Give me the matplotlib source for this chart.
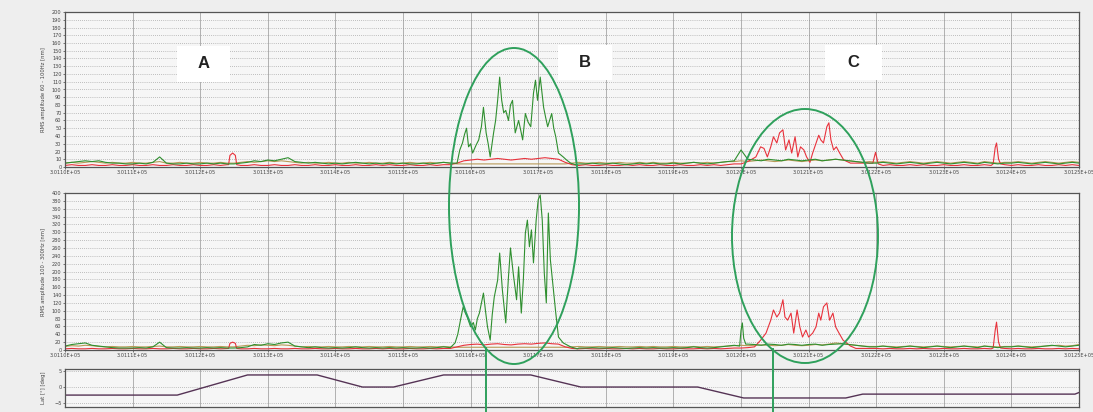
import numpy as np
import matplotlib
matplotlib.use("Agg")
import matplotlib.pyplot as plt
from matplotlib.patches import Ellipse, Rectangle
from matplotlib.lines import Line2D

# ---------------- data ----------------
T0 = 301100  # time origin (units of the x axis)
xtick_offsets = list(range(0, 151, 10))
xtick_labels = ["3.0110E+05", "3.0111E+05", "3.0112E+05", "3.0113E+05",
                "3.0114E+05", "3.0115E+05", "3.0116E+05", "3.0117E+05",
                "3.0118E+05", "3.0119E+05", "3.0120E+05", "3.0121E+05",
                "3.0122E+05", "3.0123E+05", "3.0124E+05", "3.0125E+05"]

# --- top panel (RMS 60-100 Hz), baseline sampled every 1 unit ---
green1_base = [5, 6, 7, 8, 7, 8, 6, 5, 5, 4,
               4, 5, 4, 6, 13, 5, 4, 4, 5, 4,
               4, 5, 4, 5, 4, 4, 5, 6, 8, 7,
               9, 8, 10, 12, 7, 6, 5, 6, 5, 4,
               5, 4, 5, 6, 5, 4, 5, 4, 5, 4,
               5, 4, 4, 5, 4, 5, 6, 5, 5, 5,
               5, 5, 5, 5, 5, 5, 5, 5, 5, 5,
               5, 5, 5, 5, 5, 5, 4, 4, 5, 4,
               4, 5, 4, 3, 4, 5, 4, 5, 4, 4,
               5, 4, 5, 6, 5, 4, 5, 6, 7, 8,
               22, 10, 9, 8, 10, 9, 8, 10, 9, 8,
               9, 10, 8, 9, 10, 9, 8, 7, 6, 5,
               5, 6, 5, 4, 5, 6, 5, 4, 5, 6,
               5, 4, 5, 6, 5, 4, 6, 5, 4, 5,
               5, 6, 5, 4, 5, 6, 5, 4, 5, 6, 5]
green1_B_t = [58.0, 58.4, 58.8, 59.1, 59.4, 59.7, 60.0, 60.3, 60.8, 61.2, 61.6, 61.9,
              62.3, 62.6, 62.9, 63.4, 63.7, 64.0, 64.3, 64.6, 64.9, 65.2, 65.6, 65.9,
              66.2, 66.6, 67.1, 67.4, 67.7, 68.1, 68.5, 68.9, 69.3, 69.6, 69.9, 70.3,
              70.8, 71.1, 71.4, 72.0, 72.3, 72.6, 73.0, 73.7, 74.2, 74.8, 75.5]
green1_B_v = [5, 22, 31, 42, 50, 26, 30, 18, 28, 35, 52, 77,
              44, 30, 13, 44, 60, 86, 116, 86, 70, 73, 60, 80,
              86, 44, 60, 48, 35, 69, 58, 52, 95, 112, 86, 116,
              77, 64, 52, 69, 50, 39, 18, 13, 9, 5, 3]

red1_base = [2, 3, 2, 2, 3, 2, 2, 3, 2, 2,
             3, 2, 2, 3, 2, 2, 3, 2, 2, 3,
             2, 2, 3, 2, 3, 3, 2, 2, 3, 2,
             2, 3, 2, 2, 3, 2, 2, 3, 2, 2,
             3, 2, 2, 3, 2, 2, 3, 2, 3, 2,
             2, 3, 2, 2, 3, 2, 3, 3, 5, 8,
             9, 10, 9, 10, 11, 10, 9, 10, 11, 10,
             11, 12, 11, 10, 6, 3, 2, 3, 2, 2,
             3, 2, 2, 3, 2, 3, 2, 2, 3, 2,
             2, 3, 2, 2, 3, 2, 3, 2, 3, 4,
             4, 5, 6, 5, 6, 5, 6, 5, 6, 5,
             6, 5, 6, 5, 6, 5, 4, 3, 3, 3,
             3, 2, 3, 2, 2, 3, 2, 3, 2, 2,
             3, 2, 2, 3, 2, 2, 3, 2, 2, 3,
             2, 3, 2, 2, 3, 2, 2, 3, 2, 3, 2]
red1_bump_t = [24.2, 24.4, 24.8, 25.2, 25.4]
red1_bump_v = [3, 15, 18, 15, 3]
red1_C_t = [100.0, 100.7, 101.4, 102.2, 102.9, 103.4, 103.9, 104.4, 104.8, 105.3,
            105.7, 106.2, 106.6, 107.1, 107.5, 108.0, 108.4, 108.8, 109.3, 109.7,
            110.2, 110.6, 111.1, 111.5, 111.8, 112.2, 112.7, 113.0, 113.3, 113.7,
            114.1, 114.6, 115.2, 116.2, 119.5, 119.9, 120.3]
red1_C_v = [4, 6, 9, 13, 26, 24, 13, 26, 39, 31,
            44, 48, 22, 35, 18, 39, 13, 26, 22, 13,
            6, 18, 31, 41, 35, 31, 52, 57, 35, 22,
            26, 18, 9, 5, 5, 19, 4]
red1_spike_t = [137.3, 137.6, 137.8, 138.1, 138.4]
red1_spike_v = [4, 25, 31, 10, 4]

olive1_base = [5, 6, 5, 6, 7, 6, 5, 6, 5, 5,
               6, 5, 5, 6, 7, 5, 5, 6, 5, 5,
               6, 5, 5, 6, 5, 5, 6, 7, 6, 7,
               8, 7, 8, 7, 6, 5, 6, 5, 5, 6,
               5, 5, 6, 5, 5, 6, 5, 5, 6, 5,
               5, 6, 5, 5, 6, 5, 6, 5, 4, 4,
               4, 4, 4, 4, 4, 4, 4, 4, 4, 4,
               4, 4, 4, 4, 4, 5, 6, 5, 5, 6,
               5, 5, 6, 5, 5, 6, 5, 6, 5, 5,
               6, 5, 5, 6, 5, 6, 5, 6, 7, 7,
               8, 7, 8, 9, 8, 7, 8, 9, 8, 7,
               8, 9, 8, 9, 10, 9, 8, 7, 6, 7,
               6, 7, 6, 5, 6, 7, 6, 5, 6, 7,
               6, 5, 6, 7, 6, 5, 7, 6, 5, 6,
               6, 7, 6, 5, 6, 7, 6, 5, 6, 7, 6]

# --- middle panel (RMS 100-300 Hz) ---
green2_base = [10, 14, 16, 18, 12, 10, 8, 6, 5, 5,
               5, 6, 5, 8, 20, 6, 5, 5, 6, 5,
               5, 6, 5, 6, 5, 5, 6, 8, 14, 12,
               16, 14, 18, 20, 10, 8, 6, 8, 6, 5,
               6, 5, 6, 8, 6, 5, 6, 5, 6, 5,
               6, 5, 5, 6, 5, 6, 8, 6, 6, 6,
               6, 6, 6, 6, 6, 6, 6, 6, 6, 6,
               6, 6, 6, 6, 6, 6, 5, 5, 6, 5,
               5, 6, 5, 4, 5, 6, 5, 6, 5, 5,
               6, 5, 6, 8, 6, 5, 6, 8, 10, 12,
               12, 15, 14, 12, 15, 14, 12, 15, 14, 12,
               14, 15, 12, 14, 15, 16, 14, 12, 10, 8,
               8, 10, 8, 6, 8, 10, 8, 6, 8, 10,
               8, 6, 8, 10, 8, 6, 10, 8, 6, 8,
               8, 10, 8, 6, 8, 10, 12, 10, 8, 10, 12]
green2_B_t = [57.7, 58.1, 58.5, 58.9, 59.2, 59.5, 60.0, 60.4, 60.7, 61.0, 61.3, 61.6,
              61.9, 62.2, 62.5, 62.9, 63.2, 63.5, 64.0, 64.3, 64.7, 65.2, 65.6, 65.9,
              66.3, 66.8, 67.1, 67.5, 67.8, 68.1, 68.4, 68.7, 69.0, 69.3, 69.7, 70.0,
              70.3, 70.6, 70.9, 71.2, 71.5, 71.8, 72.1, 72.6, 73.0, 73.7, 74.8, 75.8]
green2_B_v = [18, 40, 76, 110, 95, 84, 59, 70, 51, 80, 94, 120,
              145, 100, 59, 25, 90, 135, 178, 247, 153, 69, 186, 260,
              196, 128, 212, 94, 178, 298, 331, 263, 306, 222, 331, 383,
              395, 331, 196, 120, 349, 230, 178, 94, 33, 18, 8, 3]
green2_C_t = [99.8, 100.0, 100.2, 100.4, 100.7]
green2_C_v = [10, 50, 69, 30, 15]

red2_base = [3, 4, 3, 3, 4, 3, 3, 4, 3, 3,
             4, 3, 3, 4, 3, 3, 4, 3, 3, 4,
             3, 3, 4, 3, 4, 4, 3, 3, 4, 3,
             3, 4, 3, 3, 4, 3, 3, 4, 3, 3,
             4, 3, 3, 4, 3, 3, 4, 3, 4, 3,
             3, 4, 3, 3, 4, 3, 4, 4, 8, 12,
             14, 15, 13, 15, 16, 14, 13, 15, 16, 15,
             17, 18, 16, 15, 8, 4, 3, 4, 3, 3,
             4, 3, 3, 4, 3, 4, 3, 3, 4, 3,
             3, 4, 3, 3, 4, 3, 4, 3, 4, 5,
             5, 6, 8, 6, 8, 6, 8, 6, 8, 6,
             8, 6, 8, 6, 8, 6, 5, 4, 4, 4,
             4, 3, 4, 3, 3, 4, 3, 4, 3, 3,
             4, 3, 3, 4, 3, 3, 4, 3, 3, 4,
             3, 4, 3, 3, 4, 3, 3, 4, 3, 4, 3]
red2_bump_t = [24.2, 24.4, 24.8, 25.2, 25.4]
red2_bump_v = [4, 17, 20, 17, 4]
red2_C_t = [102.0, 102.9, 103.7, 104.4, 104.8, 105.3, 105.7, 106.2, 106.5, 106.9,
            107.4, 107.8, 108.3, 108.7, 109.1, 109.6, 110.0, 110.6, 111.1, 111.5,
            111.8, 112.2, 112.7, 113.1, 113.6, 114.0, 114.5, 115.1, 116.2]
red2_C_v = [8, 25, 43, 76, 102, 84, 94, 128, 84, 76,
            94, 43, 102, 59, 33, 51, 33, 43, 59, 94,
            76, 110, 120, 76, 94, 59, 43, 25, 10]
red2_spike_t = [137.3, 137.6, 137.8, 138.1, 138.4]
red2_spike_v = [5, 50, 71, 20, 5]

olive2_base = [9, 11, 10, 12, 11, 9, 8, 9, 8, 8,
               9, 8, 8, 9, 10, 8, 8, 9, 8, 8,
               9, 8, 8, 9, 8, 8, 10, 12, 11, 13,
               12, 11, 13, 12, 10, 8, 9, 8, 8, 9,
               8, 8, 9, 8, 8, 9, 8, 8, 9, 8,
               8, 9, 8, 8, 9, 8, 9, 8, 7, 7,
               7, 7, 7, 7, 7, 7, 7, 7, 7, 7,
               7, 7, 7, 7, 7, 8, 9, 8, 8, 9,
               8, 8, 9, 8, 8, 9, 8, 9, 8, 8,
               9, 8, 8, 9, 8, 9, 8, 9, 10, 11,
               12, 11, 12, 13, 12, 11, 12, 14, 12, 11,
               12, 14, 13, 15, 18, 16, 14, 12, 10, 9,
               9, 10, 9, 8, 9, 10, 9, 8, 9, 10,
               9, 8, 9, 10, 9, 8, 10, 9, 8, 9,
               9, 10, 9, 8, 9, 10, 11, 12, 10, 11, 14]

# --- bottom panel (latitude) ---
lat_t = [0.0, 16.6, 27.0, 37.3, 44.0, 48.6, 56.0, 68.9, 76.3, 93.6, 100.4,
         115.5, 118.0, 149.4, 150.0]
lat_v = [-2.5, -2.5, 3.75, 3.75, 0.0, 0.0, 3.75, 3.75, 0.0, 0.0, -3.4,
         -3.4, -2.2, -2.2, -1.7]


def merge(base, events):
    """Combine a 1-unit baseline with denser event samples."""
    t = np.arange(len(base), dtype=float)
    v = np.asarray(base, dtype=float)
    keep = np.ones(len(t), bool)
    for et, ev in events:
        keep &= ~((t >= min(et)) & (t <= max(et)))
    tt = np.concatenate([t[keep]] + [np.asarray(e[0], float) for e in events])
    vv = np.concatenate([v[keep]] + [np.asarray(e[1], float) for e in events])
    o = np.argsort(tt)
    return T0 + tt[o], vv[o]


# ---------------- figure ----------------
W, H = 10.93, 4.12
fig = plt.figure(figsize=(W, H), dpi=100, facecolor="#eeeeee")
L, R = 65 / 1093, 1079 / 1093


def pax(top_px, bot_px):
    return fig.add_axes([L, 1 - bot_px / 412, R - L, (bot_px - top_px) / 412])


ax1 = pax(12, 167)
ax2 = pax(193, 350)
ax3 = pax(369, 407)

GREEN, RED, OLIVE = "#2f8f2f", "#e8323c", "#b89a58"

t, v = merge(olive1_base, [])
ax1.plot(t, v, color=OLIVE, lw=0.8)
t, v = merge(red1_base, [(red1_bump_t, red1_bump_v), (red1_C_t, red1_C_v),
                         (red1_spike_t, red1_spike_v)])
ax1.plot(t, v, color=RED, lw=0.8)
t, v = merge(green1_base, [(green1_B_t, green1_B_v)])
ax1.plot(t, v, color=GREEN, lw=0.8)

t, v = merge(olive2_base, [])
ax2.plot(t, v, color=OLIVE, lw=0.8)
t, v = merge(red2_base, [(red2_bump_t, red2_bump_v), (red2_C_t, red2_C_v),
                         (red2_spike_t, red2_spike_v)])
ax2.plot(t, v, color=RED, lw=0.8)
t, v = merge(green2_base, [(green2_B_t, green2_B_v), (green2_C_t, green2_C_v)])
ax2.plot(t, v, color=GREEN, lw=0.8)

ax3.plot(T0 + np.asarray(lat_t), lat_v, color="#553355", lw=1.0)

xt = [T0 + o for o in xtick_offsets]
for ax in (ax1, ax2, ax3):
    ax.set_facecolor("#f6f6f6")
    ax.set_xlim(T0, T0 + 150)
    ax.set_xticks(xt)
    ax.xaxis.grid(True, color="#b0b0b0", lw=0.7, ls="-")
    ax.yaxis.grid(True, color="#8a8a8a", lw=0.5, ls=(0, (1, 2)))
    ax.set_axisbelow(True)
    for s in ax.spines.values():
        s.set_color("#555555")
        s.set_linewidth(0.9)
    ax.tick_params(length=1.5, width=0.5, labelsize=3.6, colors="#444444", pad=1)

ax1.set_ylim(0, 200)
ax1.set_yticks(range(0, 201, 10))
ax2.set_ylim(0, 400)
ax2.set_yticks(range(0, 401, 20))
ax3.set_ylim(-6.2, 5.6)
ax3.set_yticks([-5, 0, 5])
ax1.set_xticklabels(xtick_labels)
ax2.set_xticklabels(xtick_labels)
ax3.set_xticklabels([])
ax3.tick_params(axis="x", length=0)

ax1.set_ylabel("RMS amplitude 60 - 100Hz [nm]", fontsize=3.8, color="#444444", labelpad=4)
ax2.set_ylabel("RMS amplitude 100 - 300Hz [nm]", fontsize=3.8, color="#444444", labelpad=4)
ax3.set_ylabel("Lat [°] [deg]", fontsize=3.8, color="#444444", labelpad=6)

# ---------------- annotations (pixel -> inch) ----------------
def px(x, y):
    return x / 100.0, (412 - y) / 100.0


ECOL = "#2fa05c"
for cx, cy, w, h in [(514, 206, 130, 316), (805, 236, 146, 254)]:
    e = Ellipse(px(cx, cy), w / 100, h / 100, transform=fig.dpi_scale_trans,
                fill=False, ec=ECOL, lw=1.4, zorder=10)
    fig.add_artist(e)
for x0, y0 in [(486, 348), (773, 349)]:
    fig.add_artist(Line2D([x0 / 100, x0 / 100], [(412 - y0) / 100, 0],
                          transform=fig.dpi_scale_trans, color=ECOL, lw=1.4, zorder=10))

for letter, x0, y0, x1, y1 in [("A", 177, 46, 230, 82), ("B", 558, 45, 612, 80),
                               ("C", 825, 45, 882, 80)]:
    fig.add_artist(Rectangle(px(x0, y1), (x1 - x0) / 100, (y1 - y0) / 100,
                             transform=fig.dpi_scale_trans, fc="white", ec="none", zorder=9))
    cx, cy = px((x0 + x1) / 2, (y0 + y1) / 2)
    fig.text(cx, cy, letter, transform=fig.dpi_scale_trans, ha="center", va="center",
             fontsize=12, fontweight="bold", family="Liberation Sans", color="#222222",
             zorder=11)

fig.savefig("out.png", dpi=100, facecolor=fig.get_facecolor())
